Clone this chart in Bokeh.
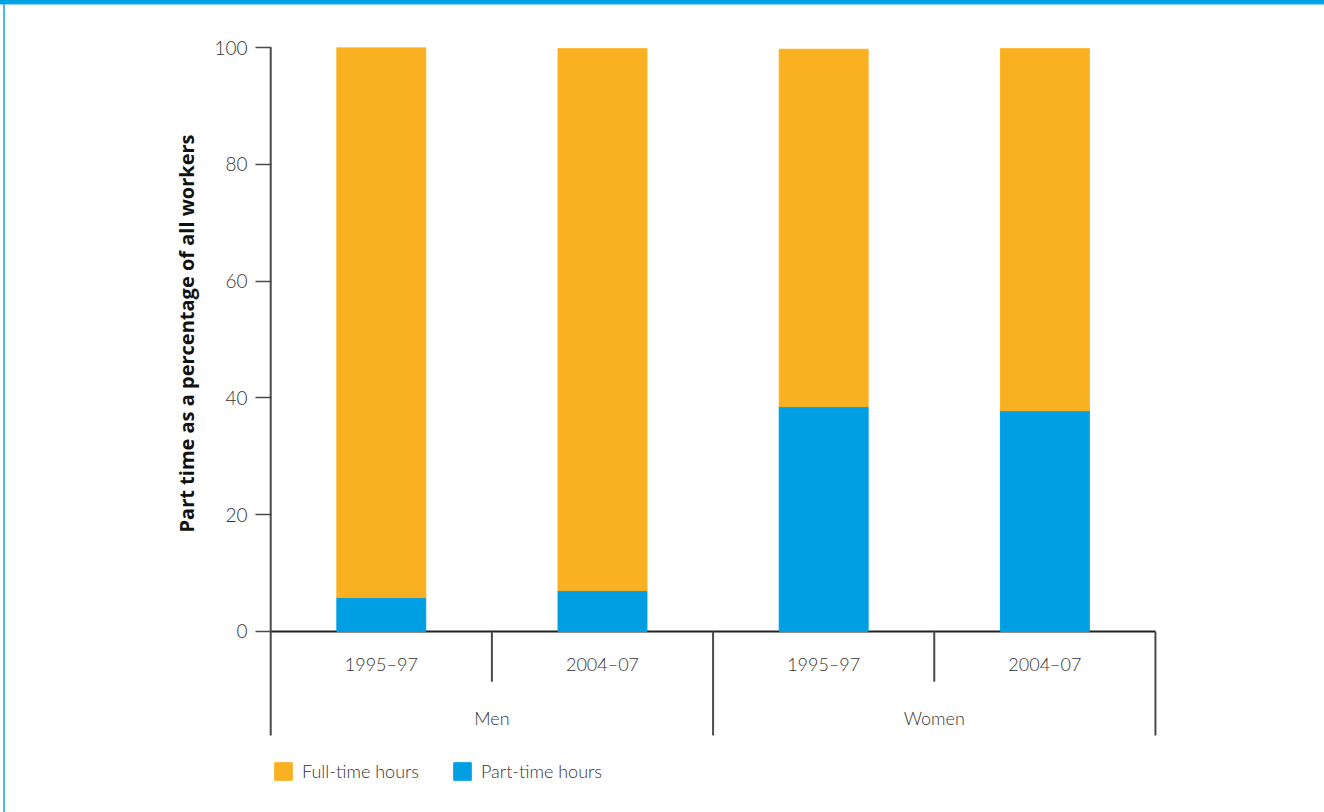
from bokeh.plotting import figure
from bokeh.models import Range1d, FixedTicker, Legend, LegendItem, ColumnDataSource, Title
from bokeh.core.properties import value
from bokeh.embed import file_html
from bokeh.resources import INLINE

# ---- data ----
groups = ["Men", "Women"]
periods = ["1995–97", "2004–07"]
part_time = [5.8, 7.0, 38.5, 37.8]
full_time = [94.2, 92.8, 61.2, 62.0]
y_ticks = [0, 20, 40, 60, 80, 100]
y_title = "Part time as a percentage of all workers"

ORANGE = "#F9B122"
BLUE = "#009FE3"
TXT = "#333333"
FONT = "Lato Light, Lato"
AXC = "#4a4a4a"

n = len(groups) * len(periods)
xs = [i + 0.5 for i in range(n)]
period_labels = [periods[i % len(periods)] for i in range(n)]
src = ColumnDataSource(dict(x=xs, part=part_time, full=full_time))

p = figure(width=1324, height=812, output_backend="svg", toolbar_location=None,
           x_range=Range1d(-0.01, n + 0.05), y_range=Range1d(-31.0, 100),
           x_axis_location=None, min_border_left=268, min_border_right=158,
           min_border_top=47, min_border_bottom=0)
p.outline_line_color = None
p.grid.visible = False
p.background_fill_color = "white"
p.border_fill_color = "white"

ax = p.yaxis[0]
ax.ticker = FixedTicker(ticks=y_ticks)
ax.major_tick_out = 13
ax.major_tick_in = 3
ax.minor_tick_out = 0
ax.minor_tick_in = 0
ax.axis_line_color = None
ax.major_tick_line_color = AXC
ax.major_tick_line_width = 1.5
ax.major_label_text_font = FONT
ax.major_label_text_font_size = "19px"
ax.major_label_text_color = TXT
ax.major_label_standoff = 8

# y-axis title, placed alongside the 0-100 part of the axis
p.add_layout(Title(text=y_title, align="left", offset=280, standoff=23,
                   text_font="Open Sans", text_font_style="bold",
                   text_font_size="20px", text_color="#111111"), "left")

# zero baseline
p.segment(x0=[0], y0=[0], x1=[n], y1=[0], line_color="#222222", line_width=2)

rs = p.vbar_stack(["part", "full"], x="x", width=0.402, color=[BLUE, ORANGE], source=src)

# vertical axis line and separators
inner = [g * len(periods) + 1 for g in range(len(groups))]
outer = [g * len(periods) for g in range(len(groups) + 1)]
p.segment(x0=[0], y0=[y_ticks[-1]], x1=[0], y1=[-17.8], line_color=AXC, line_width=2)
p.segment(x0=inner, y0=[0] * len(inner), x1=inner, y1=[-8.6] * len(inner),
          line_color=AXC, line_width=2)
p.segment(x0=outer[1:], y0=[0] * len(groups), x1=outer[1:], y1=[-17.8] * len(groups),
          line_color=AXC, line_width=2)

# category labels
p.text(x=xs, y=[-5.65] * n, text=period_labels, text_align="center", text_baseline="middle",
       text_font=value(FONT), text_font_size="18px", text_color=TXT)
gx = [g * len(periods) + len(periods) / 2 for g in range(len(groups))]
p.text(x=gx, y=[-14.9] * len(groups), text=groups, text_align="center", text_baseline="middle",
       text_font=value(FONT), text_font_size="18px", text_color=TXT)

legend = Legend(items=[LegendItem(label="Full-time hours", renderers=[rs[1]]),
                       LegendItem(label="Part-time hours", renderers=[rs[0]])],
                orientation="horizontal", location=(4, 30),
                glyph_width=22, glyph_height=22, label_standoff=8, spacing=32,
                padding=0, margin=0, border_line_color=None, background_fill_alpha=0,
                label_text_font=FONT, label_text_font_size="18px", label_text_color=TXT)
p.add_layout(legend, "center")

html = file_html(p, INLINE)
css = ("<style>html,body{margin:0;padding:0;}"
       "body::before{content:'';position:fixed;left:0;top:0;width:100%;height:4px;"
       "background:#00A3E3;border-bottom:1px solid #8FD6F3;z-index:10;}"
       "body::after{content:'';position:fixed;left:3px;top:4px;width:2px;height:100%;"
       "background:#45BDEE;z-index:10;}</style></head>")
html = html.replace("</head>", css, 1)
open("out.html", "w").write(html)
